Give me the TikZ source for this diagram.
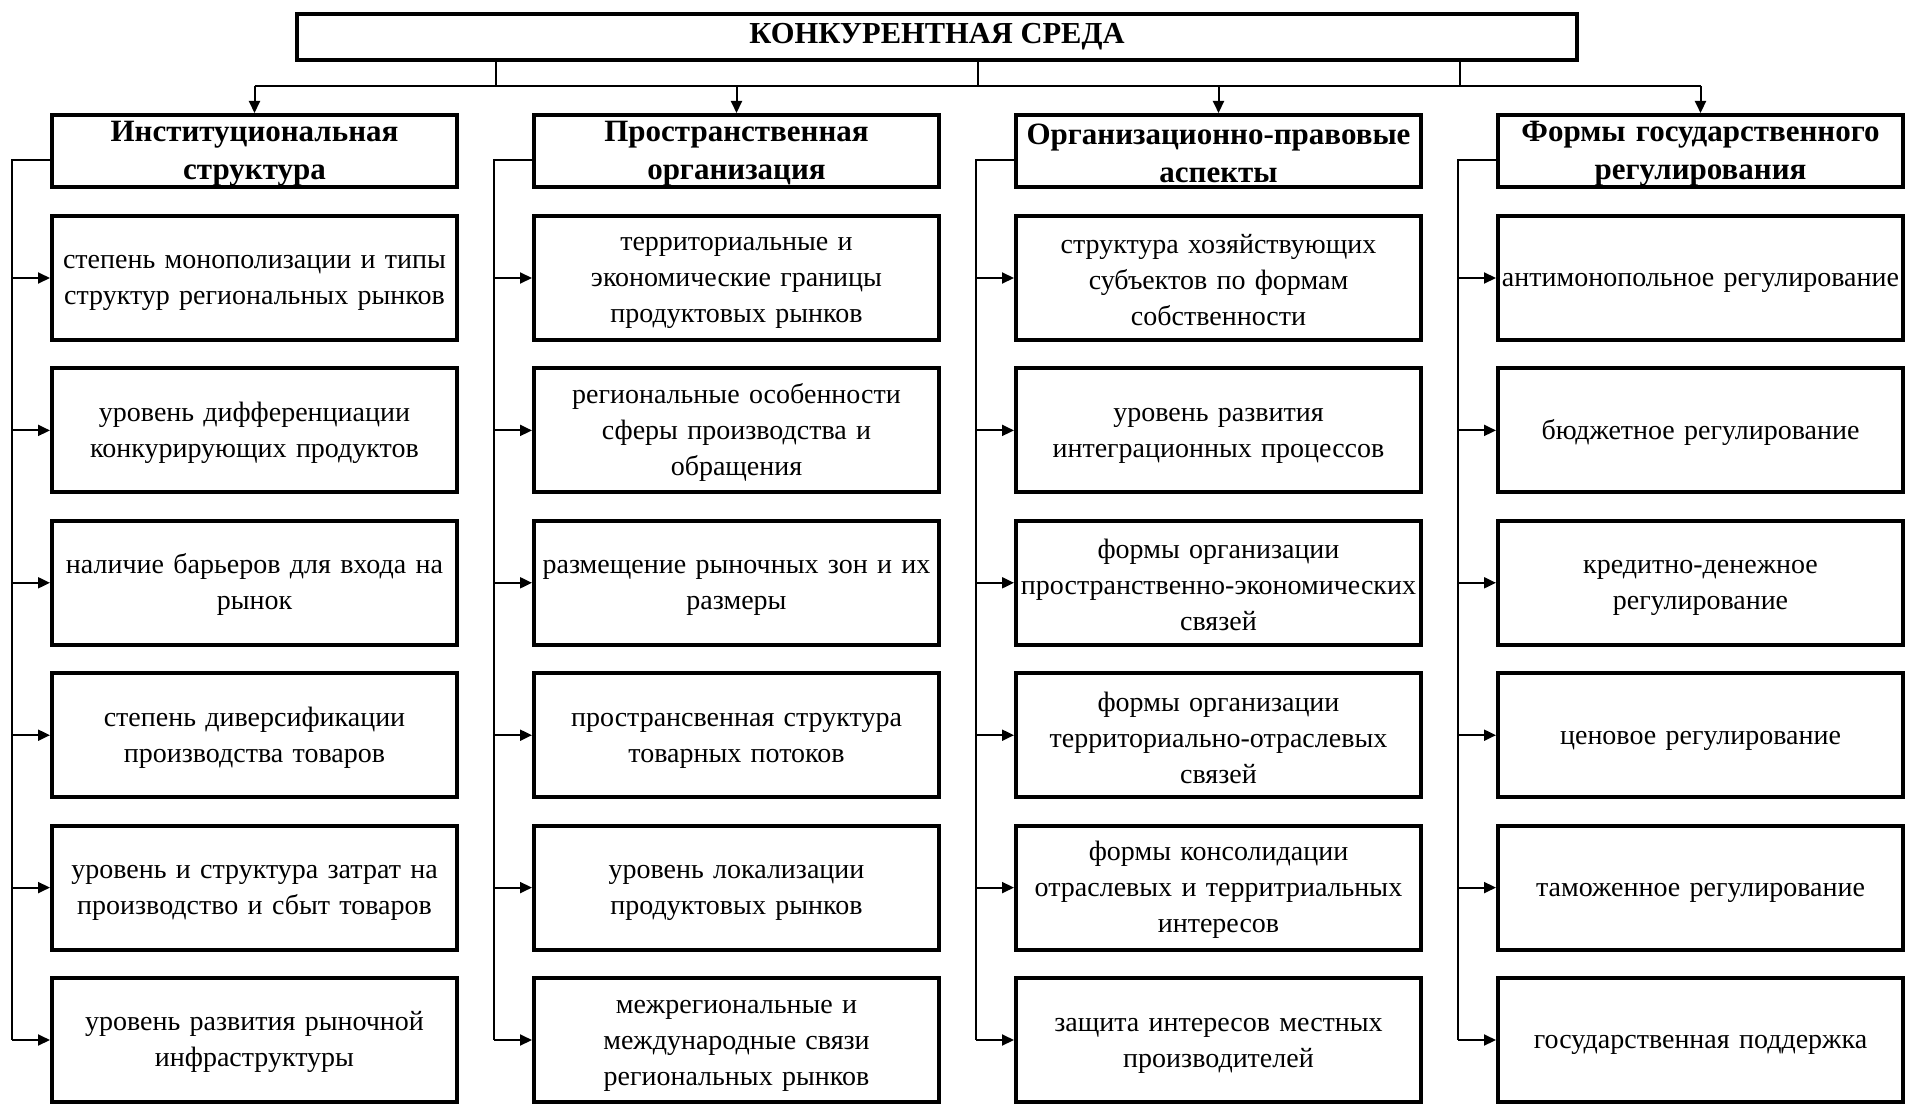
\documentclass[tikz,border=0pt]{standalone}
\usepackage{fontspec}
\setmainfont{Liberation Serif}
\usetikzlibrary{calc,arrows.meta}
\tikzset{
  box/.style={draw, line width=4pt, inner sep=0pt, align=center},
  topbox/.style={box, minimum width=1280pt, minimum height=46pt, font=\fontsize{30.5}{36}\selectfont\bfseries},
  headbox/.style={box, minimum width=405pt, text width=404pt, minimum height=72pt,
    font=\fontsize{31}{38}\selectfont\bfseries, execute at begin node={\rule{0pt}{25pt}}},
  itembox/.style={box, minimum width=405pt, text width=404pt, minimum height=124pt,
    font=\fontsize{28}{36}\selectfont, execute at begin node={\rule{0pt}{24pt}}},
  link/.style={line width=2pt},
  arr/.style={link, -{Triangle[length=12pt,width=11pt]}}
}

\begin{document}
\begin{tikzpicture}[x=1pt,y=-1pt]
  %%%%% START %%%%%
  \useasboundingbox (0,0) rectangle (1906,1105);

  \node[topbox] (env) at (937,37) {\raisebox{-5pt}{КОНКУРЕНТНАЯ СРЕДА}};

  % headers
  \foreach \txt [count=\col] in {{Институциональная\\структура},
      {Пространственная\\организация},
      {Организационно-правовые\\аспекты},
      {Формы государственного\\регулирования}}
    \node[headbox] (h\col) at ({254.5+482*(\col-1)},151) {\txt};

  % column 1
  \foreach \txt [count=\row] in {{степень монополизации и типы\\структур региональных рынков},
      {уровень дифференциации\\конкурирующих продуктов},
      {наличие барьеров для входа на\\рынок},
      {степень диверсификации\\производства товаров},
      {уровень и структура затрат на\\производство и сбыт товаров},
      {уровень развития рыночной\\инфраструктуры}}
    \node[itembox] (b1\row) at (254.5,{278+152.4*(\row-1)}) {\txt};

  % column 2
  \foreach \txt [count=\row] in {{территориальные и\\экономические границы\\продуктовых рынков},
      {региональные особенности\\сферы производства и\\обращения},
      {размещение рыночных зон и их\\размеры},
      {пространсвенная структура\\товарных потоков},
      {уровень локализации\\продуктовых рынков},
      {межрегиональные и\\международные связи\\региональных рынков}}
    \node[itembox] (b2\row) at (736.5,{278+152.4*(\row-1)}) {\txt};

  % column 3
  \foreach \txt [count=\row] in {{структура хозяйствующих\\субъектов по формам\\собственности},
      {уровень развития\\интеграционных процессов},
      {формы организации\\пространственно-экономических\\связей},
      {формы организации\\территориально-отраслевых\\связей},
      {формы консолидации\\отраслевых и территриальных\\интересов},
      {защита интересов местных\\производителей}}
    \node[itembox] (b3\row) at (1218.5,{278+152.4*(\row-1)}) {\txt};

  % column 4
  \foreach \txt [count=\row] in {{антимонопольное регулирование},
      {бюджетное регулирование},
      {кредитно-денежное\\регулирование},
      {ценовое регулирование},
      {таможенное регулирование},
      {государственная поддержка}}
    \node[itembox] (b4\row) at (1700.5,{278+152.4*(\row-1)}) {\txt};

  % top bus
  \coordinate (bus) at (0,86);
  \draw[link] (h1.north |- bus) -- (h4.north |- bus);
  \foreach \col in {1,...,4}
    \draw[arr] (h\col.north |- bus) -- (h\col.north);
  \foreach \col/\nxt in {1/2,2/3,3/4} {
    \coordinate (d\col) at ($(h\col.east)!0.5!(h\nxt.west)$);
    \draw[link] (d\col |- env.south) -- (d\col |- bus);
  }

  % side buses
  \foreach \col in {1,...,4} {
    \coordinate (s\col) at ($(h\col.west)+(-38,9)$);
    \draw[link] (h\col.west |- s\col) -- (s\col) -- (s\col |- b\col6.west);
    \foreach \row in {1,...,6}
      \draw[arr] (s\col |- b\col\row.west) -- (b\col\row.west);
  }
  %%%%% END %%%%%
\end{tikzpicture}
\end{document}
